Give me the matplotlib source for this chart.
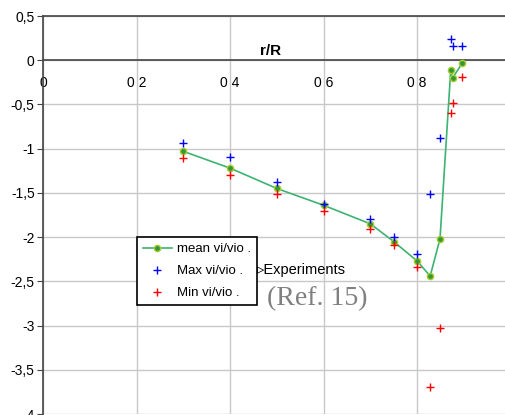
import matplotlib
matplotlib.use("Agg")
import matplotlib.pyplot as plt
from matplotlib.ticker import FixedLocator, FixedFormatter

plt.rcParams["font.family"] = ["Liberation Sans", "DejaVu Sans"]

# r/R stations and vi/vio values
r_R = [0.3, 0.4, 0.5, 0.6, 0.7, 0.75, 0.8, 0.828, 0.849, 0.872, 0.876, 0.897]
mean_v = [-1.03, -1.22, -1.45, -1.64, -1.85, -2.05, -2.27, -2.44, -2.02, -0.11, -0.20, -0.03]
max_v = [-0.94, -1.09, -1.375, -1.62, -1.80, -2.00, -2.19, -1.51, -0.88, 0.237, 0.16, 0.166]
min_v = [-1.11, -1.30, -1.51, -1.71, -1.91, -2.09, -2.335, -3.69, -3.03, -0.60, -0.48, -0.195]

y_ticks = [0.5, 0, -0.5, -1, -1.5, -2, -2.5, -3, -3.5, -4]
y_labels = ["0,5", "0", "-0,5", "-1", "-1,5", "-2", "-2,5", "-3", "-3,5", "-4"]
x_ticks = [0, 0.2, 0.4, 0.6, 0.8]
x_labels = ["0", "0 2", "0 4", "0 6", "0 8"]

fig = plt.figure(figsize=(5.05, 4.15), dpi=100)
ax = fig.add_axes([43 / 505, 1 / 415, 462 / 505, 398 / 415])

ax.plot(r_R, mean_v, color="#3cb371", lw=1.2, marker="o", ms=4.5,
        mfc="#339933", mec="#aacc33", mew=1, label="mean vi/vio .", zorder=3)
ax.plot(r_R, max_v, ls="none", marker="+", ms=6, mew=1, color="#0000ff",
        label="Max vi/vio .", zorder=4)
ax.plot(r_R, min_v, ls="none", marker="+", ms=6, mew=1, color="#ff0000",
        label="Min vi/vio .", zorder=4)

ax.set_xlim(0, 0.988)
ax.set_ylim(-4, 0.5)

ax.yaxis.set_major_locator(FixedLocator(y_ticks))
ax.yaxis.set_major_formatter(FixedFormatter(y_labels))
ax.xaxis.set_major_locator(FixedLocator(x_ticks))
ax.xaxis.set_major_formatter(FixedFormatter(x_labels))

# x axis sits on the zero line, labels hang below it
ax.spines["bottom"].set_position(("data", 0))
ax.spines["right"].set_visible(False)
for s in ("bottom", "top", "left"):
    ax.spines[s].set_color("#444444")
    ax.spines[s].set_linewidth(1.2)

ax.grid(True, color="#c8c8c8", lw=1)
ax.set_axisbelow(True)
ax.tick_params(axis="y", direction="out", length=4, color="#444444",
               labelsize=10, pad=2)
ax.tick_params(axis="x", length=0, labelsize=10, pad=11)

ax.text(0.486, 0.02, "r/R", fontsize=11, fontweight="bold", ha="center", va="bottom")

leg = ax.legend(loc="upper left", bbox_to_anchor=(0.2035, 0.4447), borderaxespad=0,
                fancybox=False, edgecolor="black", framealpha=1, fontsize=9.5,
                handlelength=2.2, handletextpad=0.4, labelspacing=0.75,
                borderpad=0.45)
leg.get_frame().set_linewidth(1.2)

ax.text(0.462, 0.362, "\u25b9Experiments", transform=ax.transAxes, fontsize=10.5,
        ha="left", va="center")
ax.text(0.485, 0.29, "(Ref. 15)", transform=ax.transAxes, fontsize=20,
        family="Liberation Serif", color="#808080", ha="left", va="center")

fig.savefig("out.png", dpi=100)
